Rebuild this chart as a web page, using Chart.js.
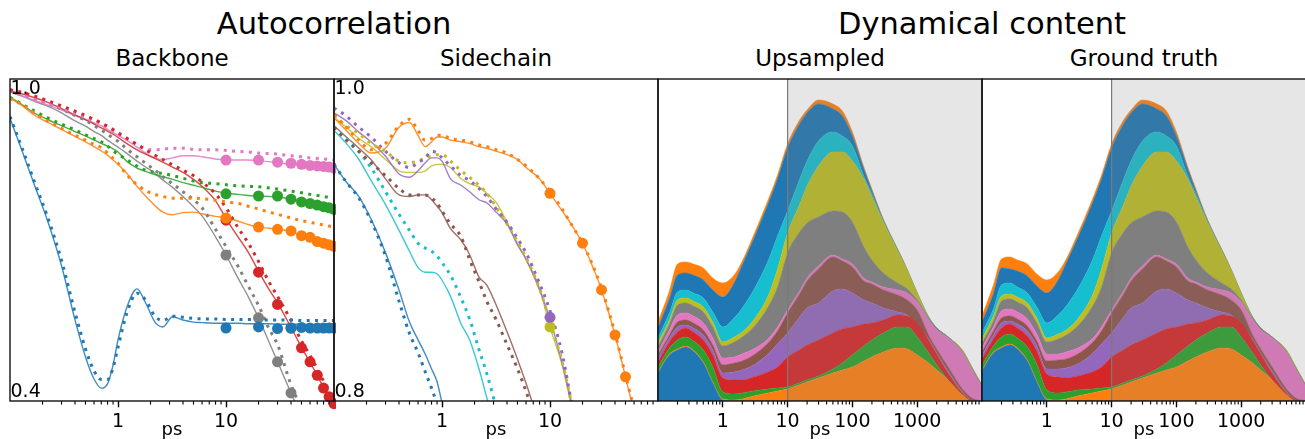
<!DOCTYPE html>
<html><head><meta charset="utf-8">
<script src="https://cdn.jsdelivr.net/npm/chart.js@4.4.0/dist/chart.umd.min.js"></script>
<style>
html,body{margin:0;padding:0;background:#fff;}
body{width:1305px;height:439px;position:relative;overflow:hidden;font-family:'DejaVu Sans',sans-serif;color:#000;}
.txt{position:absolute;white-space:nowrap;line-height:normal;transform:translateX(-50%);}
canvas{position:absolute;}
</style></head><body>
<div class="txt" style="left:334px;top:6px;font-size:30.5px">Autocorrelation</div>
<div class="txt" style="left:982px;top:6px;font-size:30.5px">Dynamical content</div>
<div class="txt" style="left:172px;top:44.7px;font-size:23px">Backbone</div>
<div class="txt" style="left:496px;top:44.7px;font-size:23px">Sidechain</div>
<div class="txt" style="left:820px;top:44.7px;font-size:23px">Upsampled</div>
<div class="txt" style="left:1144px;top:44.7px;font-size:23px">Ground truth</div>
<canvas id="c1" width="328" height="362" style="left:8px;top:77px"></canvas>
<canvas id="c2" width="328" height="362" style="left:332px;top:77px"></canvas>
<canvas id="c3" width="328" height="362" style="left:656px;top:77px"></canvas>
<canvas id="c4" width="328" height="362" style="left:980px;top:77px"></canvas>
<div class="txt" style="left:172px;top:418.3px;font-size:18px">ps</div>
<div class="txt" style="left:496px;top:418.3px;font-size:18px">ps</div>
<div class="txt" style="left:820px;top:418.3px;font-size:18px">ps</div>
<div class="txt" style="left:1144px;top:418.3px;font-size:18px">ps</div>
<script>
// ---------- colours (matplotlib tab10) ----------
const C = {blue:'#1f77b4', orange:'#ff7f0e', green:'#2ca02c', red:'#d62728', purple:'#9467bd',
           brown:'#8c564b', pink:'#e377c2', gray:'#7f7f7f', olive:'#bcbd22', cyan:'#17becf'};

// ---------- autocorrelation lags (ps) ----------
const lags = [0.1,0.13,0.17,0.22,0.3,0.4,0.5,0.6,0.7,0.8,0.9,1,1.2,1.5,1.8,2.2,2.6,3.2,4,5,6,8,10,13,16,20,25,30,40,50,60,70,80,90,100];
const markerLags = [10,20,30,40,50,60,70,80,90,100];

// ---------- Backbone ----------
const bbBlueSolid   = [0.927,0.865,0.800,0.739,0.652,0.551,0.482,0.441,0.424,0.432,0.467,0.514,0.573,0.609,0.583,0.547,0.538,0.557,0.551,0.547,0.546,0.545,0.545,0.545,0.544,0.544,0.544,0.543,0.543,0.543,0.542,0.542,0.542,0.542,0.542];
const bbBlueDotted  = [0.930,0.870,0.806,0.746,0.662,0.565,0.497,0.456,0.440,0.440,0.462,0.500,0.562,0.601,0.588,0.558,0.550,0.558,0.556,0.554,0.553,0.553,0.552,0.552,0.552,0.551,0.551,0.551,0.551,0.550,0.550,0.550,0.550,0.550,0.550];
const bbBlueMarks   = [0.536,0.538,0.535,0.536,0.537,0.536,0.536,0.536,0.536,0.536];
const bbOrangeSolid = [0.964,0.950,0.932,0.920,0.906,0.893,0.883,0.874,0.866,0.858,0.849,0.841,0.825,0.800,0.782,0.764,0.752,0.747,0.751,0.752,0.749,0.744,0.741,0.735,0.729,0.724,0.722,0.720,0.716,0.708,0.703,0.698,0.694,0.691,0.689];
const bbOrangeDotted= [0.964,0.952,0.936,0.922,0.908,0.895,0.886,0.878,0.872,0.862,0.852,0.843,0.822,0.803,0.792,0.785,0.781,0.778,0.778,0.778,0.777,0.774,0.771,0.768,0.763,0.758,0.752,0.748,0.741,0.736,0.733,0.730,0.728,0.726,0.724];
const bbOrangeMarks = [0.741,0.724,0.720,0.717,0.708,0.705,0.697,0.694,0.691,0.688];
const bbGreenSolid  = [0.966,0.952,0.936,0.925,0.913,0.902,0.894,0.886,0.880,0.875,0.870,0.864,0.847,0.834,0.828,0.822,0.818,0.813,0.807,0.802,0.798,0.791,0.787,0.785,0.783,0.782,0.781,0.780,0.776,0.772,0.769,0.766,0.763,0.761,0.759];
const bbGreenDotted = [0.966,0.953,0.940,0.928,0.916,0.905,0.896,0.889,0.883,0.875,0.866,0.860,0.850,0.838,0.830,0.826,0.824,0.820,0.815,0.810,0.807,0.805,0.803,0.801,0.800,0.799,0.797,0.795,0.791,0.788,0.785,0.783,0.781,0.779,0.777];
const bbGreenMarks  = [0.786,0.782,0.782,0.776,0.771,0.768,0.765,0.762,0.760,0.757];
const bbRedSolid    = [0.978,0.972,0.965,0.957,0.945,0.933,0.924,0.916,0.909,0.903,0.897,0.891,0.880,0.868,0.860,0.852,0.845,0.836,0.826,0.813,0.800,0.773,0.740,0.705,0.678,0.642,0.608,0.583,0.537,0.500,0.472,0.448,0.425,0.408,0.393];
const bbRedDotted   = [0.980,0.975,0.968,0.960,0.950,0.940,0.932,0.925,0.918,0.912,0.906,0.900,0.890,0.878,0.868,0.858,0.850,0.840,0.830,0.820,0.808,0.786,0.760,0.722,0.695,0.660,0.622,0.595,0.550,0.512,0.485,0.460,0.437,0.418,0.402];
const bbRedMarks    = [0.737,0.640,0.580,0.536,0.499,0.473,0.448,0.424,0.408,0.395];
const bbPinkSolid   = [0.976,0.968,0.960,0.952,0.942,0.932,0.925,0.918,0.913,0.906,0.900,0.895,0.886,0.873,0.862,0.853,0.850,0.853,0.857,0.857,0.855,0.851,0.849,0.849,0.849,0.848,0.846,0.844,0.841,0.840,0.838,0.837,0.836,0.835,0.834];
const bbPinkDotted  = [0.980,0.972,0.964,0.956,0.946,0.936,0.929,0.922,0.917,0.910,0.903,0.897,0.888,0.878,0.870,0.868,0.869,0.871,0.871,0.869,0.868,0.868,0.867,0.865,0.864,0.862,0.861,0.860,0.857,0.855,0.853,0.852,0.851,0.850,0.849];
const bbPinkMarks   = [0.849,0.849,0.845,0.843,0.841,0.839,0.838,0.837,0.836,0.834];
const bbGraySolid   = [0.976,0.968,0.958,0.950,0.937,0.922,0.912,0.902,0.895,0.886,0.879,0.873,0.862,0.847,0.836,0.824,0.812,0.798,0.781,0.762,0.745,0.706,0.672,0.628,0.595,0.555,0.510,0.473,0.415,0.370,0.330];
const bbGrayDotted  = [0.978,0.972,0.964,0.955,0.944,0.932,0.923,0.913,0.905,0.897,0.890,0.884,0.870,0.855,0.843,0.830,0.818,0.805,0.790,0.775,0.760,0.720,0.688,0.650,0.615,0.578,0.535,0.505,0.430,0.385,0.345];
const bbGrayMarks   = [0.672,0.555,0.473,0.415];

// ---------- Sidechain ----------
const scBlueSolid   = [0.947,0.936,0.927,0.913,0.892,0.869,0.849,0.838,0.829,0.820,0.812,0.799,0.780];
const scBlueDotted  = [0.947,0.936,0.926,0.912,0.890,0.862,0.842,0.830,0.818,0.808,0.798,0.788];
const scOrangeSolid = [0.976,0.968,0.960,0.954,0.957,0.970,0.973,0.965,0.958,0.961,0.964,0.964,0.962,0.961,0.960,0.958,0.957,0.955,0.953,0.950,0.945,0.938,0.929,0.918,0.909,0.898,0.883,0.869,0.841,0.815,0.793];
const scOrangeDotted= [0.978,0.970,0.962,0.956,0.960,0.971,0.975,0.968,0.962,0.963,0.965,0.965,0.963,0.962,0.961,0.959,0.958,0.956,0.954,0.950,0.946,0.938,0.930,0.919,0.909,0.898,0.884,0.870,0.842,0.816,0.795];
const scOrangeMarks = [0.929,0.898,0.869,0.841,0.815];
const scPurpleSolid = [0.979,0.974,0.967,0.961,0.952,0.941,0.939,0.943,0.948,0.951,0.951,0.949,0.938,0.934,0.930,0.925,0.923,0.917,0.910,0.897,0.888,0.869,0.851,0.823,0.798];
const scPurpleDotted= [0.982,0.977,0.970,0.964,0.955,0.948,0.945,0.948,0.951,0.955,0.954,0.951,0.946,0.940,0.937,0.932,0.927,0.919,0.911,0.901,0.892,0.873,0.856,0.829,0.797];
const scPurpleMarks = [0.852];
const scBrownSolid  = [0.971,0.964,0.957,0.950,0.938,0.928,0.927,0.928,0.928,0.925,0.921,0.917,0.907,0.900,0.891,0.877,0.872,0.859,0.843,0.826,0.811,0.785];
const scBrownDotted = [0.970,0.962,0.955,0.948,0.940,0.932,0.928,0.928,0.928,0.926,0.923,0.918,0.910,0.902,0.888,0.874,0.862,0.850,0.835,0.820,0.806,0.780];
const scOliveSolid  = [0.976,0.970,0.963,0.958,0.950,0.943,0.942,0.942,0.943,0.946,0.947,0.947,0.945,0.938,0.935,0.933,0.929,0.923,0.911,0.898,0.888,0.870,0.846,0.822,0.795];
const scOliveDotted = [0.977,0.971,0.966,0.960,0.955,0.949,0.948,0.949,0.951,0.952,0.953,0.953,0.949,0.943,0.939,0.934,0.929,0.920,0.910,0.899,0.889,0.870,0.849,0.824,0.797];
const scOliveMarks  = [0.846];
const scCyanSolid   = [0.968,0.960,0.950,0.937,0.922,0.906,0.893,0.883,0.880,0.880,0.879,0.875,0.865,0.848,0.838,0.820,0.802,0.780];
const scCyanDotted  = [0.970,0.963,0.955,0.945,0.930,0.916,0.906,0.898,0.895,0.893,0.890,0.886,0.878,0.864,0.851,0.832,0.817,0.795];

// ---------- Dynamical content (stack boundaries, bottom layer first) ----------
const stackX = [0.1,0.15,0.2,0.27,0.35,0.5,0.7,1,1.5,2,3,5,7,10,15,20,30,50,70,100,150,200,300,500,700,1000,1500,2000,3000,5000,7000,10000];
const stackColors = [C.blue,C.orange,C.green,C.red,C.purple,C.brown,C.pink,C.gray,C.olive,C.cyan,C.blue,C.orange];
const upL0  = [28,46,51,54,50,38,18,1,0,0,0,0,0,0,0,0,0,0,0,0,0,0,0,0,0,0,0,0,0,0,0,0];
const upL1  = [29,47,52,55,51,39,19,2,1,2,5,8,10,12,16,19,23,28,31,34,40,44,49,53,52,46,38,31,21,6,0,0];
const upL2  = [34,53,61,64,60,51,34,9,7,8,10,12,13,14,18,21,25,32,38,46,55,61,68,74,74,64,48,36,21,6,0,0];
const upL3  = [39,59,69,73,69,61,46,23,21,21,24,29,34,44,51,56,61,68,72,74,77,78,81,86,85,78,61,47,28,8,1,0];
const upL4  = [43,63,74,76,73,66,51,28,29,31,36,47,57,68,83,93,98,110,112,108,101,98,93,89,86,76,62,48,30,9,1,0];
const upL5  = [46,66,79,81,78,71,56,36,38,40,46,58,70,88,106,120,132,144,140,134,120,117,111,106,101,91,66,52,34,12,3,0];
const upL6  = [49,71,86,88,85,78,63,43,44,47,52,62,74,91,109,123,135,146,142,137,123,119,114,111,108,99,81,71,63,48,31,14];
const upL7  = [54,77,96,98,95,89,74,55,59,64,74,94,114,148,168,178,184,190,189,179,154,141,128,118,112,101,83,73,64,49,32,15];
const upL8  = [58,81,101,103,100,94,79,59,64,69,81,105,132,168,195,215,235,249,249,240,222,204,179,150,131,108,84,73,64,50,33,15];
const upL9  = [63,88,109,111,108,103,89,74,83,93,111,140,165,190,220,240,260,269,265,255,225,207,180,151,131,108,84,73,64,50,33,15];
const upL10 = [73,102,126,128,126,121,111,104,118,136,162,197,222,253,276,288,297,292,285,265,232,210,181,151,131,108,84,73,64,50,33,15];
const upL11 = [79,110,137,139,137,133,123,118,126,140,166,201,226,257,280,291,301,297,290,269,234,212,182,152,132,108,84,73,64,51,34,16];

const gtL0  = [30,48,53,56,52,40,19,1,0,0,0,0,0,0,0,0,0,0,0,0,0,0,0,0,0,0,0,0,0,0,0,0];
const gtL1  = [31,49,54,57,53,41,20,2,1,2,5,8,10,12,16,19,23,28,31,34,40,44,49,53,52,46,38,31,21,6,0,0];
const gtL2  = [36,55,64,67,63,54,37,11,8,9,11,12,13,14,18,21,25,32,38,46,55,61,68,74,74,64,48,36,21,6,0,0];
const gtL3  = [42,62,73,77,73,65,50,27,24,23,25,29,34,44,51,56,61,68,72,74,77,78,81,86,85,78,61,47,28,8,1,0];
const gtL4  = [46,66,78,80,77,70,55,32,32,33,37,47,57,68,83,93,98,110,112,108,101,98,93,89,86,76,62,48,30,9,1,0];
const gtL5  = [49,70,83,85,82,75,60,40,41,42,47,58,70,88,106,120,132,144,140,134,120,117,111,106,101,91,66,52,34,12,3,0];
const gtL6  = [53,74,90,92,89,82,67,47,47,49,53,62,74,91,109,123,135,146,142,137,123,119,114,111,108,99,81,71,63,48,31,14];
const gtL7  = [58,80,100,102,99,93,78,59,62,66,75,94,114,148,168,178,184,190,189,179,154,141,128,118,112,101,83,73,64,49,32,15];
const gtL8  = [62,85,105,107,104,98,83,63,67,71,82,105,132,168,195,215,235,249,249,240,222,204,179,150,131,108,84,73,64,50,33,15];
const gtL9  = [68,92,116,118,114,108,94,78,86,95,112,140,165,190,220,240,260,269,265,255,225,207,180,151,131,108,84,73,64,50,33,15];
const gtL10 = [79,107,133,132,130,125,115,108,121,138,163,197,222,253,276,288,297,292,285,265,232,210,181,151,131,108,84,73,64,50,33,15];
const gtL11 = [85,116,142,144,141,137,127,121,129,142,167,201,226,257,280,291,301,297,290,269,234,212,182,152,132,108,84,73,64,51,34,16];

// ---------- ticks ----------
const acXTicks = [1,10], acXTickLabels = ['1','10'];
const dcXTicks = [1,10,100,1000], dcXTickLabels = ['1','10','100','1000'];
const bbYTicks = [0.4,1.0], bbYTickLabels = ['0.4','1.0'];
const scYTicks = [0.8,1.0], scYTickLabels = ['0.8','1.0'];
const shadeFrom = 10;

function minorTicks(maxDecade){ const out=[]; for(let d=0.1; d<maxDecade; d*=10){ for(let k=2;k<=9;k++) out.push(+(k*d).toPrecision(3)); } return out; }

// ---------- helpers ----------
function pts(xs, ys){ return ys.map((y,i)=>({x:xs[i], y:y})); }
function alpha(hex,a){ const n=parseInt(hex.slice(1),16); return `rgba(${n>>16},${(n>>8)&255},${n&255},${a})`; }

Chart.defaults.font.family = "'DejaVu Sans', sans-serif";
Chart.defaults.color = '#000';

const decoPlugin = {
  id: 'deco',
  afterDraw(chart, args, o){
    const {ctx, chartArea:a, scales} = chart;
    const xs = scales.x, ys = scales.y;
    ctx.save();
    if (o.shade) {
      const x0 = xs.getPixelForValue(o.shade);
      ctx.fillStyle = 'rgba(128,128,128,0.2)';
      ctx.fillRect(x0, a.top, a.right - x0, a.bottom - a.top);
      ctx.strokeStyle = '#7a7a7a'; ctx.lineWidth = 1.2;
      ctx.beginPath(); ctx.moveTo(x0, a.top); ctx.lineTo(x0, a.bottom); ctx.stroke();
    }
    ctx.strokeStyle = '#000'; ctx.lineWidth = 1.1;
    for (const v of o.minor) {
      const p = xs.getPixelForValue(v);
      if (p <= a.left || p >= a.right) continue;
      ctx.beginPath(); ctx.moveTo(p, a.bottom); ctx.lineTo(p, a.bottom + 3.6); ctx.stroke();
    }
    ctx.lineWidth = 1.4; ctx.strokeStyle = '#111';
    ctx.strokeRect(a.left, a.top, a.right - a.left, a.bottom - a.top);
    if (o.yTicks) {
      ctx.fillStyle = '#000'; ctx.font = "19px 'DejaVu Sans'"; ctx.textAlign = 'left'; ctx.textBaseline = 'alphabetic';
      o.yTicks.forEach((v,i)=>{
        const p = ys.getPixelForValue(v);
        const y = (i === o.yTicks.length-1) ? p + 14.8 : p - 4.2;
        ctx.fillText(o.yLabels[i], a.left + 0.5, y);
      });
    }
    ctx.restore();
  }
};

function xAxis(min, max, major, labels){
  return {
    type:'logarithmic', min:min, max:max, bounds:'data',
    afterBuildTicks: s => { s.ticks = major.map(v => ({value:v})); },
    afterFit: s => { s.height = 38; },
    ticks:{ autoSkip:false, maxRotation:0, padding:3.7, font:{size:19}, color:'#000',
            callback:(v,i)=>labels[i] },
    grid:{ display:true, drawOnChartArea:false, drawTicks:true, tickLength:6.3, tickWidth:1.4, tickColor:'#000' },
    border:{ display:false }
  };
}

function acChart(id, yMin, yMax, yTicks, yLabels, series){
  const ds = [];
  series.forEach(s=>{
    if (s.marks) ds.push({data:pts(markerLags, s.marks), showLine:false, pointRadius:5.5, pointHoverRadius:5.5,
      pointBackgroundColor:s.color, pointBorderWidth:0, borderColor:s.color, order:0, clip:false});
  });
  series.forEach(s=>{
    ds.push({data:pts(lags, s.dotted), borderColor:s.color, borderWidth:3, borderDash:[3,5.4], borderCapStyle:'butt',
      pointRadius:0, cubicInterpolationMode:'monotone', fill:false, order:1});
  });
  series.forEach(s=>{
    ds.push({data:pts(lags, s.solid), borderColor:alpha(s.color,0.85), borderWidth:1.4,
      pointRadius:0, cubicInterpolationMode:'monotone', fill:false, order:2});
  });
  new Chart(document.getElementById(id), {
    type:'line',
    data:{datasets:ds},
    options:{
      responsive:false, animation:false, devicePixelRatio:1,
      layout:{autoPadding:false, padding:{left:2,right:2,top:2,bottom:0}},
      events:[],
      scales:{ x:xAxis(0.1,100,acXTicks,acXTickLabels), y:{type:'linear', min:yMin, max:yMax, display:false} },
      plugins:{ legend:{display:false}, tooltip:{enabled:false},
        deco:{ minor:minorTicks(100), yTicks:yTicks, yLabels:yLabels } }
    },
    plugins:[decoPlugin]
  });
}

function dcChart(id, layers){
  const ds = layers.map((L,i)=>({
    data:pts(stackX, L), backgroundColor:stackColors[i], borderColor:stackColors[i], borderWidth:0.5,
    pointRadius:0, cubicInterpolationMode:'monotone', fill: i===0 ? 'origin' : '-1'
  }));
  new Chart(document.getElementById(id), {
    type:'line',
    data:{datasets:ds},
    options:{
      responsive:false, animation:false, devicePixelRatio:1,
      layout:{autoPadding:false, padding:{left:2,right:2,top:2,bottom:0}},
      events:[],
      scales:{ x:xAxis(0.1,10000,dcXTicks,dcXTickLabels), y:{type:'linear', min:0, max:322, display:false} },
      plugins:{ legend:{display:false}, tooltip:{enabled:false}, filler:{propagate:false},
        deco:{ minor:minorTicks(10000), shade:shadeFrom } }
    },
    plugins:[decoPlugin]
  });
}

acChart('c1', 0.4, 1.0, bbYTicks, bbYTickLabels, [
  {color:C.blue,   solid:bbBlueSolid,   dotted:bbBlueDotted,   marks:bbBlueMarks},
  {color:C.orange, solid:bbOrangeSolid, dotted:bbOrangeDotted, marks:bbOrangeMarks},
  {color:C.green,  solid:bbGreenSolid,  dotted:bbGreenDotted,  marks:bbGreenMarks},
  {color:C.red,    solid:bbRedSolid,    dotted:bbRedDotted,    marks:bbRedMarks},
  {color:C.pink,   solid:bbPinkSolid,   dotted:bbPinkDotted,   marks:bbPinkMarks},
  {color:C.gray,   solid:bbGraySolid,   dotted:bbGrayDotted,   marks:bbGrayMarks}
]);
acChart('c2', 0.8, 1.0, scYTicks, scYTickLabels, [
  {color:C.blue,   solid:scBlueSolid,   dotted:scBlueDotted},
  {color:C.orange, solid:scOrangeSolid, dotted:scOrangeDotted, marks:scOrangeMarks},
  {color:C.purple, solid:scPurpleSolid, dotted:scPurpleDotted, marks:scPurpleMarks},
  {color:C.brown,  solid:scBrownSolid,  dotted:scBrownDotted},
  {color:C.olive,  solid:scOliveSolid,  dotted:scOliveDotted,  marks:scOliveMarks},
  {color:C.cyan,   solid:scCyanSolid,   dotted:scCyanDotted}
]);
dcChart('c3', [upL0,upL1,upL2,upL3,upL4,upL5,upL6,upL7,upL8,upL9,upL10,upL11]);
dcChart('c4', [gtL0,gtL1,gtL2,gtL3,gtL4,gtL5,gtL6,gtL7,gtL8,gtL9,gtL10,gtL11]);
</script>
</body></html>
